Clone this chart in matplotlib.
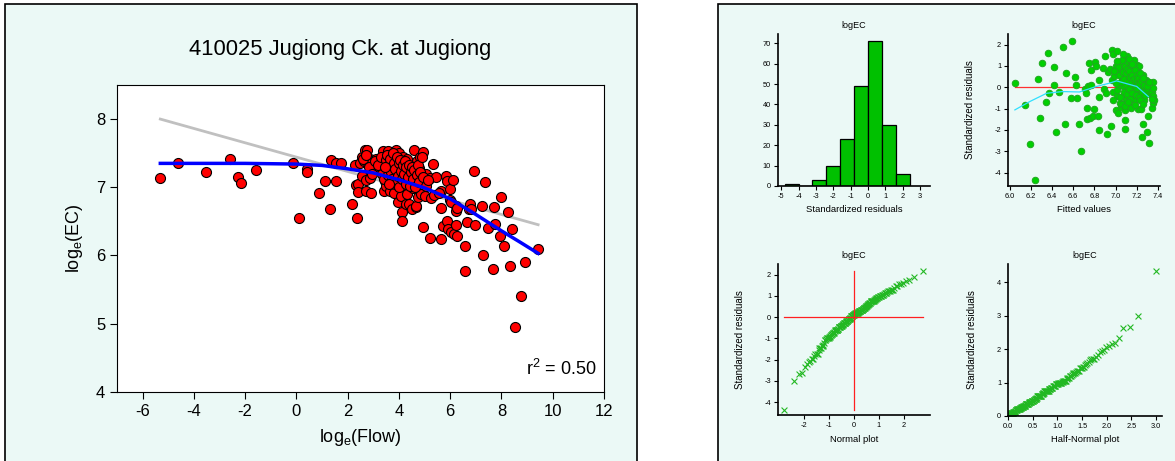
import matplotlib
matplotlib.use("Agg")
import matplotlib.pyplot as plt
from matplotlib.patches import Rectangle
from statistics import NormalDist
import numpy as np

plt.rcParams['font.family'] = ['Liberation Sans', 'DejaVu Sans']
plt.rcParams['mathtext.fontset'] = 'custom'
plt.rcParams['mathtext.rm'] = 'Liberation Sans'
plt.rcParams['axes.unicode_minus'] = False

# main scatter: log flow vs log EC
flow = [-5.31, -4.61, -3.54, -2.58, -2.27, -2.18, -1.57, -0.13, 0.12, 0.43, 0.42, 0.88,
        1.11, 1.33, 1.32, 1.54, 1.55, 1.73, 2.18, 2.36, 2.29, 2.34, 2.41, 2.42, 2.47, 2.54,
        2.56, 2.67, 2.77, 2.73, 2.71, 2.89, 2.92, 2.97, 2.86, 2.64, 2.80, 3.12, 3.25, 3.38,
        3.41, 3.45, 3.41, 3.47, 3.51, 3.58, 3.54, 3.58, 3.62, 3.64, 3.67, 3.75, 3.77, 3.80,
        3.88, 3.90, 3.94, 3.97, 3.97, 4.01, 4.03, 4.06, 4.07, 4.12, 4.12, 4.16, 4.19, 4.23,
        4.27, 4.30, 4.32, 4.32, 4.36, 4.40, 4.42, 4.45, 4.49, 4.53, 4.55, 4.58, 4.62, 4.66,
        4.68, 4.71, 4.75, 4.79, 4.81, 4.85, 4.92, 4.94, 4.97, 5.01, 5.07, 5.20, 5.23, 5.27,
        5.31, 5.44, 5.66, 5.66, 5.66, 5.70, 5.85, 5.88, 5.88, 5.92, 5.98, 6.01, 6.04, 6.09,
        6.14, 6.22, 6.24, 6.27, 6.24, 6.57, 6.57, 6.67, 6.74, 6.79, 6.92, 6.96, 7.26, 7.24,
        7.35, 7.48, 7.65, 7.71, 7.74, 7.96, 7.97, 8.09, 8.25, 8.32, 8.41, 8.52, 8.76, 8.92,
        9.43,
        2.60, 2.70, 2.83, 2.95, 3.05, 3.18, 3.30, 3.35, 3.40, 3.48, 3.52, 3.56, 3.60, 3.66,
        3.70, 3.72, 3.78, 3.82, 3.85, 3.86, 3.92, 3.95, 3.99, 4.00, 4.05, 4.08, 4.10, 4.14,
        4.18, 4.22, 4.26, 4.28, 4.34, 4.38, 4.43, 4.47, 4.50, 4.56, 4.60, 4.64, 4.70, 4.74,
        4.78, 4.84, 4.88, 4.95, 5.05, 5.12, 5.35, 5.55, 6.05, 6.25, 6.80, 3.45, 3.62]
ec = [7.13, 7.35, 7.23, 7.42, 7.15, 7.06, 7.26, 7.36, 6.55, 7.27, 7.23, 6.91,
      7.09, 7.40, 6.68, 7.09, 7.36, 7.36, 6.75, 6.55, 7.32, 7.03, 7.05, 6.93, 7.35, 7.17,
      7.44, 7.55, 7.54, 7.10, 6.94, 7.14, 6.92, 7.27, 7.42, 7.38, 7.36, 7.41, 7.36, 7.53,
      7.38, 7.26, 6.95, 7.09, 7.02, 7.53, 7.38, 7.24, 7.16, 7.07, 6.94, 7.45, 7.31, 6.92,
      7.55, 7.38, 7.25, 7.11, 6.79, 7.50, 7.33, 7.19, 6.87, 6.63, 6.50, 7.45, 7.04, 7.27,
      6.75, 7.14, 7.41, 6.90, 7.26, 6.75, 7.09, 7.19, 6.68, 7.24, 6.99, 7.54, 7.14, 6.71,
      6.72, 7.38, 6.85, 7.28, 7.45, 6.90, 7.52, 6.42, 7.07, 6.87, 7.19, 7.14, 6.26, 6.84,
      7.34, 7.15, 6.94, 6.70, 6.24, 6.43, 7.17, 7.09, 6.51, 6.38, 6.97, 6.82, 6.34, 7.10,
      6.31, 6.73, 6.65, 6.29, 6.44, 6.14, 5.77, 6.49, 6.68, 6.76, 7.24, 6.45, 6.00, 6.73,
      7.08, 6.40, 5.80, 6.71, 6.46, 6.28, 6.85, 6.14, 6.64, 5.85, 6.38, 4.95, 5.40, 5.91,
      6.09,
      7.42, 7.47, 7.30, 7.20, 7.38, 7.33, 7.45, 7.20, 7.12, 7.40, 7.48, 7.18, 7.33, 7.42,
      7.22, 7.12, 7.50, 7.35, 7.05, 7.27, 7.44, 7.17, 7.35, 7.00, 7.40, 7.24, 7.12, 7.32,
      7.20, 7.38, 7.05, 7.30, 7.15, 7.33, 7.02, 7.22, 7.30, 7.12, 7.25, 7.00, 7.18, 7.32,
      7.08, 7.22, 7.45, 7.15, 7.02, 7.10, 6.88, 6.92, 6.78, 6.70, 6.68, 7.30, 7.05]

# fitted smooth (blue) and linear fit (grey)
smooth_x = [-5.31, -4, -2, 0, 1, 2, 3, 4, 5, 6, 7, 8, 8.7, 9.43]
smooth_y = [7.35, 7.35, 7.35, 7.34, 7.32, 7.27, 7.21, 7.11, 6.99, 6.83, 6.60, 6.36, 6.20, 6.03]
lin_x = [-5.31, 9.43]
lin_y = [8.0, 6.45]

# histogram of standardized residuals
bin_left = [-4.8, -4.0, -3.2, -2.4, -1.6, -0.8, 0.0, 0.8, 1.6]
bin_count = [1, 0, 3, 10, 23, 49, 71, 30, 6]

# residuals vs fitted values
fitted = [6.05, 6.15, 6.19, 6.24, 6.27, 6.29, 6.31, 6.34, 6.36, 6.37, 6.42, 6.42, 6.44,
          6.47, 6.50, 6.52, 6.53, 6.59, 6.58, 6.62, 6.63, 6.64, 6.66, 6.67, 6.71, 6.72,
          6.73, 6.73, 6.74, 6.75, 6.76, 6.77, 6.77, 6.79, 6.80, 6.81, 6.82, 6.83, 6.84,
          6.84, 6.84, 6.88, 6.89, 6.90, 6.91, 6.92, 6.93, 6.95, 6.96, 6.97, 6.97, 6.98,
          6.98, 6.99, 7.00, 7.00, 7.01, 7.01, 7.01, 7.02, 7.02, 7.03, 7.04, 7.04, 7.05,
          7.06, 7.07, 7.07, 7.08, 7.09, 7.09, 7.09, 7.09, 7.10, 7.10, 7.11, 7.11, 7.12,
          7.12, 7.12, 7.13, 7.13, 7.13, 7.14, 7.14, 7.15, 7.15, 7.15, 7.16, 7.16, 7.17,
          7.17, 7.18, 7.18, 7.19, 7.20, 7.20, 7.21, 7.21, 7.22, 7.23, 7.23, 7.24, 7.25,
          7.25, 7.26, 7.26, 7.27, 7.28, 7.29, 7.30, 7.30, 7.31, 7.31, 7.32, 7.33, 7.34,
          7.34, 7.35, 7.35, 7.35, 7.35, 7.36,
          7.02, 7.03, 7.05, 7.06, 7.07, 7.08, 7.08, 7.09, 7.10, 7.10, 7.11, 7.11, 7.12,
          7.12, 7.13, 7.13, 7.14, 7.14, 7.15, 7.15, 7.16, 7.16, 7.17, 7.17, 7.18, 7.18,
          7.19, 7.19, 7.20, 7.20, 7.21, 7.21, 7.22, 7.22, 7.23, 7.24, 7.25, 7.26, 7.27,
          7.28, 7.30, 7.32, 7.34, 7.00, 6.99, 6.98, 7.04, 7.06, 7.09, 7.12, 7.15, 7.18,
          7.23, 7.26, 7.01, 7.07, 7.13, 7.16]
resid = [0.18, -0.83, -2.65, -4.35, 0.37, -1.44, 1.15, -0.67, 1.62, -0.29, 0.96, 0.13, -2.10,
         -0.21, 1.91, -1.72, 0.68, 2.16, -0.48, 0.46, 0.13, -0.48, -1.72, -2.98, -0.09, -0.28,
         -0.97, -1.47, 0.04, 1.14, -1.46, 0.82, 0.13, -1.36, -1.00, 1.21, 1.01, -1.33, 0.35,
         -0.47, -1.99, 0.90, -0.09, 1.45, -0.28, -2.19, 0.74, 0.84, -1.82, 1.76, 0.35, -0.20,
         1.58, 0.51, 0.98, -1.06, -0.43, 1.69, -0.12, -1.22, 0.74, 0.12, -0.75, 1.14, -0.91,
         0.43, 0.04, -0.43, 0.90, -1.53, -1.96, -1.06, 0.51, 1.29, -0.59, 0.27, 1.45, 0.74,
         -0.04, -0.28, 1.06, 0.43, -0.75, 1.21, 0.19, 0.59, -0.43, 0.90, 0.04, 0.35, 1.29,
         0.74, -0.12, -0.59, 0.51, 1.06, 0.19, -1.00, 0.74, 0.99, 0.35, -0.28, -1.03, -2.32,
         0.04, -1.71, 0.59, -0.59, 0.19, 0.35, -2.08, -0.09, -1.35, 0.27, -2.63, -0.32, -0.20,
         -0.98, 0.23, -0.04, -0.43, -0.75, -0.59,
         0.95, 0.60, 0.25, 1.30, 0.70, -0.20, 0.40, 1.00, 0.10, 0.65, -0.30, 0.85, 1.20,
         0.30, -0.10, 0.75, 0.50, -0.55, 1.05, 0.20, 0.60, -0.25, 0.95, 0.40, 0.10, 0.80,
         -0.35, 0.30, 0.60, -0.05, 0.45, 0.20, 0.15, -0.45, 0.65, 0.30, -0.20, 0.45, 0.10,
         -0.35, 0.05, 0.25, -0.55, 0.20, 0.75, -0.60, -0.45, -0.80, -0.90, -0.70, -0.95, -0.85,
         -0.60, -0.80, 1.25, 1.55, 1.35, 1.10]
trend_x = [6.05, 6.19, 6.35, 6.50, 6.66, 6.82, 6.94, 7.01, 7.20, 7.31]
trend_y = [-1.06, -0.67, -0.28, -0.20, -0.22, 0.04, 0.19, 0.30, 0.04, -0.44]

W, H = 1175, 461
fig = plt.figure(figsize=(W / 100, H / 100), dpi=100)
bg = '#EBF9F6'


def box(x0, y0, x1, y1):
    # pixel coords (top-left origin) -> figure fraction
    return [x0 / W, 1 - y1 / H, (x1 - x0) / W, (y1 - y0) / H]


for x0, y0, x1, y1 in [(5, 4, 637, 470), (718, 4, 1185, 470)]:
    fig.patches.append(Rectangle((x0 / W, 1 - y1 / H), (x1 - x0) / W, (y1 - y0) / H,
                                 transform=fig.transFigure, facecolor=bg,
                                 edgecolor='black', linewidth=1.2, zorder=-10))

# ---- main chart ----
ax = fig.add_axes(box(117, 85, 604, 391.7))
ax.set_facecolor('white')
ax.plot(lin_x, lin_y, color='#C0C0C0', lw=2, zorder=1)
ax.scatter(flow, ec, s=52, facecolor='#FF0000', edgecolor='black', linewidth=0.8, zorder=2)
ax.plot(smooth_x, smooth_y, color='#0000FF', lw=2.5, zorder=3)
ax.set_xlim(-7, 12)
ax.set_ylim(4, 8.5)
ax.set_xticks(range(-6, 13, 2))
ax.set_yticks(range(4, 9))
ax.tick_params(direction='out', length=5, labelsize=12, top=False, right=False)
ax.set_xlabel(r'$\mathregular{log_e(Flow)}$', fontsize=13, labelpad=6)
ax.set_ylabel(r'$\mathregular{log_e(EC)}$', fontsize=13, labelpad=8)
ax.text(0.985, 0.04, r'$\mathregular{r^2}$ = 0.50', transform=ax.transAxes,
        ha='right', va='bottom', fontsize=13)
fig.text(340 / W, 1 - 50 / H, '410025 Jugiong Ck. at Jugiong', ha='center', va='center',
         fontsize=15.8)


def small(ax, title, xlabel, ylabel=None):
    ax.set_facecolor('none')
    for s in ['top', 'right']:
        ax.spines[s].set_visible(False)
    for s in ['left', 'bottom']:
        ax.spines[s].set_linewidth(1.2)
    ax.tick_params(direction='out', length=3, width=0.8, labelsize=5.3, pad=2)
    ax.set_title(title, fontsize=6.5, pad=4)
    ax.set_xlabel(xlabel, fontsize=6.8, labelpad=4)
    if ylabel:
        ax.set_ylabel(ylabel, fontsize=7, labelpad=14)


# histogram
ax1 = fig.add_axes(box(778, 34, 930, 186))
ax1.bar(bin_left, bin_count, width=0.8, align='edge', color='#00C000', edgecolor='black',
        linewidth=0.9)
ax1.set_xlim(-5.19, 3.58)
ax1.set_ylim(0, 74.6)
ax1.set_xticks(range(-5, 4))
ax1.set_yticks(range(0, 71, 10))
small(ax1, 'logEC', 'Standardized residuals')

# residuals vs fitted
ax2 = fig.add_axes(box(1008, 34, 1160, 186))
ax2.plot([min(fitted), max(fitted)], [0, 0], color='#FF3030', lw=0.9, zorder=1)
ax2.scatter(fitted, resid, s=22, facecolor='#00D000', edgecolor='#1FA81F', linewidth=0.7,
            zorder=2)
ax2.plot(trend_x, trend_y, color='#30E0FF', lw=0.9, zorder=3)
ax2.set_xlim(5.985, 7.42)
ax2.set_ylim(-4.63, 2.5)
ax2.set_xticks(np.arange(6.0, 7.41, 0.2))
ax2.xaxis.set_major_formatter(matplotlib.ticker.FormatStrFormatter('%.1f'))
ax2.set_yticks(range(-4, 3))
small(ax2, 'logEC', 'Fitted values', 'Standardized residuals')

# normal plot
n = len(resid)
r_sorted = sorted(resid)
q_norm = [NormalDist().inv_cdf((i + 0.5) / n) for i in range(n)]
ax3 = fig.add_axes(box(778, 264, 930, 415))
ax3.plot([min(q_norm), max(q_norm)], [0, 0], color='#FF2020', lw=0.9)
ax3.plot([0, 0], [min(resid), max(resid)], color='#FF2020', lw=0.9)
ax3.scatter(q_norm, r_sorted, marker='x', s=18, color='#22B822', linewidth=0.8)
ax3.set_xlim(-3.02, 3.04)
ax3.set_ylim(-4.6, 2.5)
ax3.set_xticks(range(-2, 3))
ax3.set_yticks(range(-4, 3))
small(ax3, 'logEC', 'Normal plot', 'Standardized residuals')

# half-normal plot
a_sorted = sorted(abs(v) for v in resid)
q_half = [NormalDist().inv_cdf(0.5 + 0.5 * (i + 0.5) / n) for i in range(n)]
ax4 = fig.add_axes(box(1008, 264, 1162, 416))
ax4.scatter(q_half, a_sorted, marker='x', s=18, color='#22B822', linewidth=0.8)
ax4.set_xlim(0, 3.12)
ax4.set_ylim(0, 4.55)
ax4.set_xticks(np.arange(0, 3.01, 0.5))
ax4.xaxis.set_major_formatter(matplotlib.ticker.FormatStrFormatter('%.1f'))
ax4.set_yticks(range(0, 5))
small(ax4, 'logEC', 'Half-Normal plot', 'Standardized residuals')

fig.savefig('out.png', dpi=100)
